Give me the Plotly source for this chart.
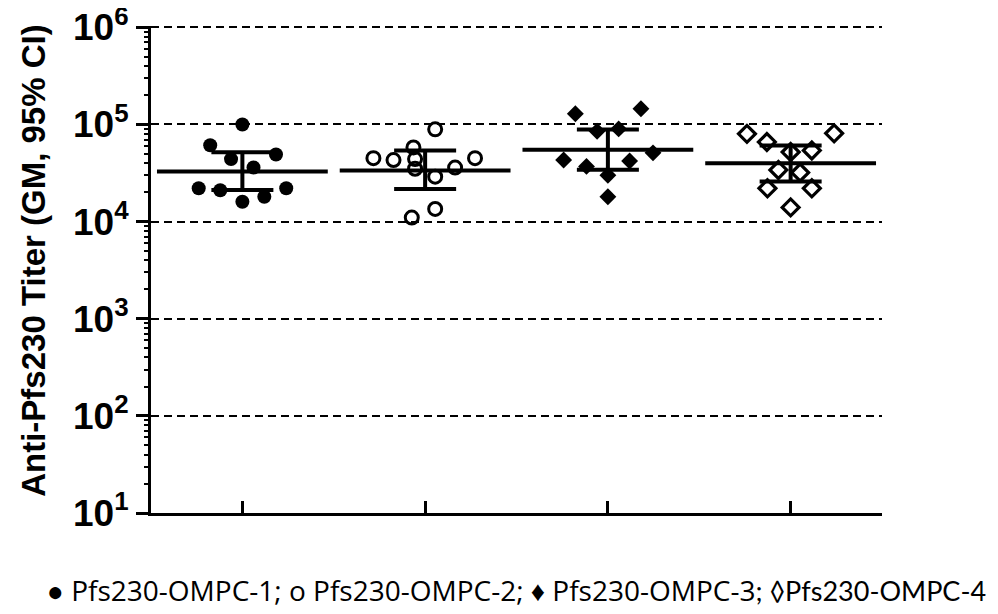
import plotly.graph_objects as go

groups = ["Pfs230-OMPC-1", "Pfs230-OMPC-2", "Pfs230-OMPC-3", "Pfs230-OMPC-4"]

g1_values = [1.0e5, 6.1e4, 4.9e4, 4.4e4, 3.6e4, 2.2e4, 2.1e4, 2.2e4, 1.8e4, 1.6e4]
g1_jitter = [0, -0.176, 0.184, -0.062, 0.061, -0.239, -0.121, 0.24, 0.12, 0]
g2_values = [8.9e4, 5.8e4, 4.5e4, 4.3e4, 4.4e4, 3.5e4, 4.5e4, 3.6e4, 2.9e4, 1.35e4, 1.1e4]
g2_jitter = [0.055, -0.064, -0.283, -0.173, -0.055, -0.055, 0.273, 0.164, 0.055, 0.055, -0.073]
g3_values = [1.29e5, 1.45e5, 8.5e4, 9.0e4, 5.1e4, 4.3e4, 3.7e4, 4.2e4, 3.0e4, 1.8e4]
g3_jitter = [-0.178, 0.181, -0.059, 0.059, 0.247, -0.242, -0.117, 0.119, 0, 0]
g4_values = [8.0e4, 8.1e4, 6.6e4, 5.4e4, 5.2e4, 3.4e4, 3.2e4, 2.2e4, 2.2e4, 1.4e4]
g4_jitter = [-0.239, 0.238, -0.13, 0.116, 0, -0.067, 0.052, -0.127, 0.116, 0]

gm = [3.27e4, 3.36e4, 5.48e4, 3.99e4]
ci_low = [2.12e4, 2.17e4, 3.41e4, 2.58e4]
ci_high = [5.18e4, 5.4e4, 8.86e4, 6.08e4]

y_tick_vals = [1e1, 1e2, 1e3, 1e4, 1e5, 1e6]
y_tick_text = ["10<sup>1</sup>", "10<sup>2</sup>", "10<sup>3</sup>", "10<sup>4</sup>", "10<sup>5</sup>", "10<sup>6</sup>"]

all_values = [g1_values, g2_values, g3_values, g4_values]
all_jitter = [g1_jitter, g2_jitter, g3_jitter, g4_jitter]
symbols = ["circle", "circle-open", "diamond", "diamond-open"]
sizes = [14, 13, 13, 13]
line_widths = [0, 3, 0, 3.2]

centers = [i + 0.5 for i in range(len(groups))]
minor_vals = [m * 10 ** k for k in range(1, 6) for m in range(2, 10)]
y_range = [1, 6.0135]

fig = go.Figure()

# invisible trace to carry the minor-tick overlay axis
fig.add_trace(go.Scatter(x=[centers[0]], y=[gm[0]], yaxis="y2", mode="markers",
                         marker=dict(opacity=0), showlegend=False, hoverinfo="skip"))

# GM line with 95% CI error bars
fig.add_trace(go.Scatter(
    x=centers, y=gm, mode="markers",
    marker=dict(symbol="line-ew", size=122, color="black",
                line=dict(width=4, color="black")),
    error_y=dict(type="data", symmetric=False,
                 array=[h - g for h, g in zip(ci_high, gm)],
                 arrayminus=[g - l for g, l in zip(gm, ci_low)],
                 width=31, thickness=4, color="black"),
    showlegend=False, hoverinfo="skip",
))

for i, name in enumerate(groups):
    fig.add_trace(go.Scatter(
        x=[centers[i] + j for j in all_jitter[i]],
        y=all_values[i], mode="markers", name=name,
        marker=dict(symbol=symbols[i], size=sizes[i], color="black",
                    line=dict(width=line_widths[i], color="black")),
        showlegend=False,
    ))

axis_font = dict(family="Liberation Sans, Arial, sans-serif", size=37, color="black", weight=700)

fig.update_layout(
    width=998, height=614,
    margin=dict(l=143, r=124, t=18, b=109, autoexpand=False),
    plot_bgcolor="white", paper_bgcolor="white",
    xaxis=dict(range=[0, 4], tickmode="array", tickvals=centers, showticklabels=False,
               ticks="inside", ticklen=12, tickwidth=3, tickcolor="black", automargin=False,
               showline=True, linewidth=3, linecolor="black", showgrid=False, zeroline=False),
    yaxis=dict(type="log", range=y_range, tickmode="array", tickvals=y_tick_vals, ticktext=y_tick_text,
               ticks="outside", ticklen=12, tickwidth=3, tickcolor="black",
               tickfont=axis_font, automargin=False, ticklabeloverflow="allow",
               showline=True, linewidth=3, linecolor="black",
               showgrid=True, gridcolor="black", gridwidth=2, griddash="8px,5px",
               zeroline=False),
    yaxis2=dict(type="log", range=y_range, overlaying="y", side="left", anchor="x",
                tickmode="array", tickvals=minor_vals, showticklabels=False,
                ticks="outside", ticklen=6, tickwidth=2, tickcolor="black",
                showgrid=False, zeroline=False, showline=False, automargin=False),
)

fig.add_annotation(
    text="<b>Anti-Pfs230 Titer (GM, 95% CI)</b>", textangle=-90,
    xref="paper", yref="paper", x=-0.161, y=0.5185, showarrow=False,
    font=dict(family="Liberation Sans, Arial, sans-serif", size=33, color="black"),
    xanchor="center", yanchor="middle",
)

fig.add_annotation(
    text="● Pfs230-OMPC-1; ο Pfs230-OMPC-2; ♦ Pfs230-OMPC-3<span style='font-family:Lato;font-size:27px'>; ◊Pfs230-OMPC-4</span>",
    xref="paper", yref="paper", x=0.5, y=-0.158, showarrow=False,
    font=dict(family="Open Sans, sans-serif", size=28, color="black"),
    xanchor="center", yanchor="middle",
)

fig.write_html("out.html")
